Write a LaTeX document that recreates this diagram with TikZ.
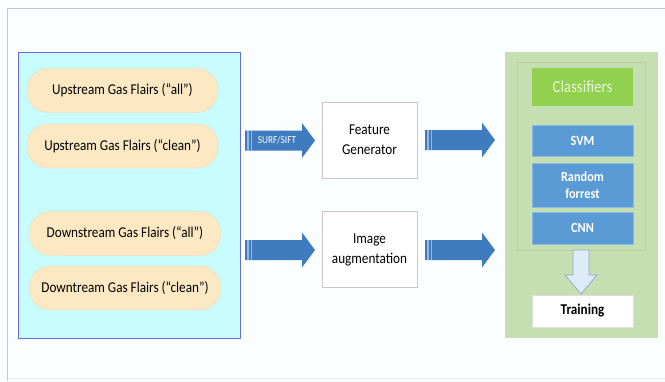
\documentclass[tikz,border=0pt]{standalone}
\usepackage{fontspec}
\setmainfont{Carlito}[FakeStretch=0.88]
\usetikzlibrary{shapes.arrows}
\definecolor{bgc}{HTML}{FBFEFE}
\definecolor{framec}{HTML}{C8C8C8}
\definecolor{cyanfill}{HTML}{C8FCFC}
\definecolor{panelblue}{HTML}{6B6BE0}
\definecolor{pillfill}{HTML}{FDE8C4}
\definecolor{pilledge}{HTML}{F0DAB4}
\definecolor{arrowblue}{HTML}{3F7CBF}
\definecolor{greenpanel}{HTML}{C5DFB3}
\definecolor{greeninner}{HTML}{B5D1A2}
\definecolor{classgreen}{HTML}{92D050}
\definecolor{classtext}{HTML}{E6F3DA}
\definecolor{algblue}{HTML}{5B9BD5}
\definecolor{downfill}{HTML}{DDEBF7}
\definecolor{downedge}{HTML}{8FA6C4}
\begin{document}
\begin{tikzpicture}[x=1pt,y=-1pt,
  pill/.style={draw=pilledge, fill=pillfill, rounded corners=21pt, minimum width=191pt, minimum height=44pt, font=\fontsize{15}{18}\selectfont, inner sep=0pt},
  stagebox/.style={draw=framec, fill=white, minimum width=95pt, minimum height=76pt, align=center, font=\fontsize{15}{20}\selectfont, inner sep=0pt},
  algbox/.style={draw=algblue!70!white, fill=algblue, text=white, minimum width=101pt, align=center, font=\bfseries\fontsize{14}{17}\selectfont, inner sep=0pt},
  barrow/.pic={
    \fill[arrowblue] (0,-10) -- (57,-10) -- (57,-17.5) -- (70,0) -- (57,17.5) -- (57,10) -- (0,10) -- cycle;
    \fill[arrowblue!55!white] (2.3,-10) rectangle (3.6,10);
    \fill[arrowblue!55!white] (5.9,-10) rectangle (7.2,10);
    \coordinate (-tip) at (70,0);
  }]
\useasboundingbox (0,0) rectangle (665,381);
\fill[bgc] (0,0) rectangle (665,381);
\draw[framec, line width=1.6pt] (7.5,381) -- (7.5,8.5) -- (665,8.5);
\draw[framec!40] (7.5,378.5) -- (665,378.5);

% left panel
\node[draw=panelblue, line width=1pt, fill=cyanfill, minimum width=222pt, minimum height=286pt, inner sep=0pt] (src) at (129,195) {};
\node[pill] (ua) at (122.5,90.5) {Upstream Gas Flairs (“all”)};
\node[pill] (uc) at (122.5,146) {Upstream Gas Flairs (“clean”)};
\node[pill] (da) at (125,233.5) {Downstream Gas Flairs (“all”)};
\node[pill] (dc) at (125,288) {Downtream Gas Flairs (“clean”)};

% stages
\node[stagebox] (fg) at (369.5,140) {Feature\\Generator};
\node[stagebox] (ia) at (369.5,249.5) {Image\\augmentation};

% right panel
\node[fill=greenpanel, minimum width=153pt, minimum height=286pt, inner sep=0pt] (dst) at (581.5,195) {};
\node[draw=greeninner, minimum width=128pt, minimum height=188pt, inner sep=0pt] (inner) at (581,156) {};
\node[fill=classgreen, text=classtext, minimum width=101pt, minimum height=38pt, font=\fontsize{17}{20}\selectfont, inner sep=0pt] (cls) at (582.5,87) {Classifiers};
\node[algbox, minimum height=31pt] (svm) at (582.5,140.5) {SVM};
\node[algbox, minimum height=44pt] (rf) at (582.5,185) {Random\\forrest};
\node[algbox, minimum height=32pt] (cnn) at (582.5,228) {CNN};
\node[draw=framec!60, fill=white, minimum width=101pt, minimum height=32pt, font=\bfseries\fontsize{15}{18}\selectfont, inner sep=0pt] (train) at (582.5,311) {Training};

% block arrows
\pic (a1) at (245,140.5) {barrow};
\node[text=white, font=\fontsize{10.5}{12}\selectfont] (surf) at (277,140.5) {SURF/SIFT};
\pic (a2) at (245,250) {barrow};
\pic (a3) at (425,140) {barrow};
\pic (a4) at (425,250) {barrow};

% down arrow
\draw[downedge, fill=downfill, line width=0.7pt] (573,250) -- (589,250) -- (589,275) -- (597,275) -- (581,294) -- (565,275) -- (573,275) -- cycle;
\end{tikzpicture}
\end{document}
